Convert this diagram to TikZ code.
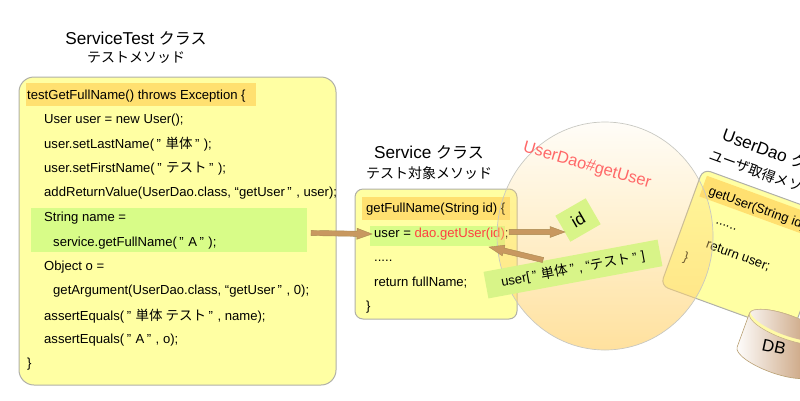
\documentclass[tikz,border=0pt]{standalone}
\usepackage{fontspec}
\setmainfont{Liberation Sans}
\newfontfamily\jp{Noto Sans CJK JP}
\usetikzlibrary{shapes.geometric,calc,fadings}
\definecolor{boxfill}{HTML}{FFFFA3}
\definecolor{boxline}{HTML}{B0B0A8}
\definecolor{bandor}{HTML}{FFE070}
\definecolor{bandgr}{HTML}{D8FC88}
\definecolor{bandgrb}{HTML}{D8F488}
\definecolor{tan}{HTML}{C89860}
\definecolor{tanline}{HTML}{A88850}
\definecolor{redt}{HTML}{FF4040}
\definecolor{redl}{HTML}{FF6868}
\definecolor{sun}{HTML}{FFD474}
\definecolor{brown}{HTML}{BC8A5C}
\tikzfading[name=sunfade,top color=transparent!95,bottom color=transparent!30]
\tikzset{
 code/.style={anchor=west,inner sep=0pt,font=\fontsize{13.1}{15}\selectfont,text=black},
 title/.style={inner sep=0pt,font=\fontsize{17.2}{19}\selectfont},
 sub/.style={inner sep=0pt,font=\fontsize{14}{16}\selectfont},
 cbox/.style={draw=boxline,line width=1pt,fill=boxfill},
 fat/.style={draw=tanline,line width=.4pt,fill=tan},
}
\newcommand{\J}[1]{{\fontsize{13.5}{15}\selectfont\jp #1}}
\newcommand{\JT}[1]{{\fontsize{16}{18}\selectfont\jp #1}}
\newcommand{\JS}[1]{{\fontsize{14}{16}\selectfont\jp #1}}
\newcommand{\Q}{\hspace{2.5pt}”\hspace{4.5pt}}
\newcommand{\fatarrow}[2]{%
 \path let \p1=($(#2)-(#1)$),\n1={atan2(\y1,\x1)} in
 [fat] [shift={(#1)},rotate=\n1] (0,-2.6) -- ({veclen(\x1,\y1)-15},-2.6) -- ({veclen(\x1,\y1)-15},-5.5) -- ({veclen(\x1,\y1)},0) -- ({veclen(\x1,\y1)-15},5.5) -- ({veclen(\x1,\y1)-15},2.6) -- (0,2.6) -- cycle;}
\begin{document}
\begin{tikzpicture}[x=1pt,y=-1pt]
\useasboundingbox (0,0) rectangle (800,400);
\clip (0,0) rectangle (800,400);
% titles
\node[title] (t1) at (136,38) {ServiceTest \JT{クラス}};
\node[sub] (t1b) at (136,58) {\JS{テストメソッド}};
\node[title] (t2) at (429,152) {Service \JT{クラス}};
\node[sub] (t2b) at (429,173) {\JS{テスト対象メソッド}};
\node[title,anchor=west,rotate=-20] (t3) at (723,134) {UserDao \JT{クラス}};
\node[sub,anchor=west,rotate=-20] (t3b) at (710,154) {\JS{ユーザ取得メソッド}};
% test box
\draw[cbox,rounded corners=15pt] (19,77) rectangle (336,385);
\fill[bandor] (26,83) rectangle (256,106);
\fill[bandgr] (31,208) rectangle (307,252);
\node[code] (a1) at (27,96) {testGetFullName() throws Exception \{};
\node[code] (a2) at (44,120) {User user = new User();};
\node[code] (a3) at (44,144) {user.setLastName(\Q\J{単体}\Q);};
\node[code] (a4) at (44,169) {user.setFirstName(\Q\J{テスト}\Q);};
\node[code] (a5) at (44,193) {addReturnValue(UserDao.class, “getUser\Q, user);};
\node[code] (a6) at (44,218) {String name =};
\node[code] (a7) at (53,243) {service.getFullName(\Q A\Q);};
\node[code] (a8) at (44,267) {Object o =};
\node[code] (a9) at (53,291) {getArgument(UserDao.class, “getUser\Q, 0);};
\node[code] (a10) at (44,316) {assertEquals(\Q\J{単体 テスト}\Q, name);};
\node[code] (a11) at (44,340) {assertEquals(\Q A\Q, o);};
\node[code] (a12) at (27,364) {\}};
% user dao box
\begin{scope}[shift={(703,169)},rotate=-20]
\draw[cbox,rounded corners=8pt] (0,0) rectangle (140,124);
\fill[bandor] (6,5) rectangle (134,27);
\node[code,transform shape] (d1) at (13,19) {getUser(String id) \{};
\node[code,transform shape] (d2) at (30,46) {......};
\node[code,transform shape] (d3) at (29,70) {return user;};
\node[code,transform shape] (d4) at (12,90) {\}};
\end{scope}
% service box
\draw[cbox,rounded corners=8pt] (355,189) rectangle (517,319);
\fill[bandor] (362,197) rectangle (510,220);
\fill[bandgr] (370,226) rectangle (505,246);
\node[code] (s1) at (366,209) {getFullName(String id) \{};
\node[code] (s2) at (374,234) {user = {\color{redt}dao.getUser(id)};};
\node[code] (s3) at (374,261) {.....};
\node[code] (s4) at (374,283) {return fullName;};
\node[code] (s5) at (366,307) {\}};
% circle
\fill[sun,path fading=sunfade] (605,236) ellipse [x radius=108,y radius=114];
\draw[boxline!70!white,line width=.7pt] (605,236) ellipse [x radius=108,y radius=114];
\node[inner sep=0pt,rotate=-16,text=redl,font=\fontsize{16.5}{18}\selectfont] (m) at (587,166) {UserDao\#getUser};
% green labels
\node[fill=bandgrb,inner sep=0pt,minimum width=35pt,minimum height=30pt,rotate=30,font=\fontsize{17}{18}\selectfont] (idb) at (578,220) {id};
\node[fill=bandgrb,inner sep=0pt,minimum width=177pt,minimum height=27pt,rotate=10.5,font=\fontsize{13.1}{15}\selectfont] (ub) at (573,269) {user[\Q\J{単体}\Q, “\J{テスト}\Q ]};
% arrows
\coordinate (ar1a) at (311,233); \coordinate (ar1b) at (372,234);
\coordinate (ar2a) at (509,232); \coordinate (ar2b) at (565,232);
\coordinate (ar3a) at (543,260); \coordinate (ar3b) at (489,247);
\fatarrow{ar1a}{ar1b}
\fatarrow{ar2a}{ar2b}
\fatarrow{ar3a}{ar3b}
% DB
\begin{scope}[shift={(787,327)},rotate=-20]
\shade[left color=white,right color=brown,draw=tanline!80!white,line width=.6pt] (-40,0) -- (-40,36) arc[start angle=180,end angle=360,x radius=40,y radius=-12] -- (40,0) arc[start angle=0,end angle=180,x radius=40,y radius=-12] -- cycle;
\fill[yellow!35!white] (0,0) ellipse [x radius=40,y radius=12];
\begin{scope}
\clip (0,0) ellipse [x radius=40,y radius=12];
\shade[left color=white!90!brown,right color=brown] (0,-3.5) ellipse [x radius=40,y radius=12];
\end{scope}
\draw[tanline!70!white,line width=.5pt] (0,0) ellipse [x radius=40,y radius=12];
\end{scope}
\node[inner sep=0pt,rotate=-12,font=\fontsize{17}{18}\selectfont] (db) at (774,347) {DB};
\end{tikzpicture}
\end{document}
